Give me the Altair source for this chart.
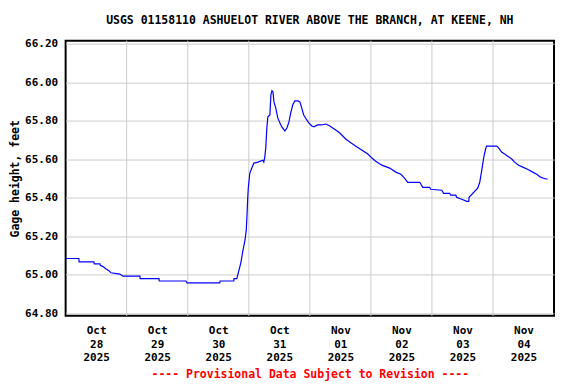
import json
import altair as alt
import pandas as pd

chart_title = "USGS 01158110 ASHUELOT RIVER ABOVE THE BRANCH, AT KEENE, NH"
y_title = "Gage height, feet"
x_note = "---- Provisional Data Subject to Revision ----"

# hours since 2025-10-28 00:00
hours = [0, 5.2, 5.3, 11.1, 11.3, 13.5, 13.6, 14.7, 15.8, 17.0,
         17.8, 21.3, 22.5, 29.2, 29.3, 36.7, 36.8, 47.3, 47.7, 60.6,
         60.7, 66.1, 66.2, 67.3, 68.1, 68.9, 69.7, 70.5, 71.0, 71.3,
         71.6, 71.8, 72.4, 73.2, 74.0, 75.6, 77.5, 77.9, 78.3, 78.7,
         79.1, 79.5, 80.3, 80.7, 81.1, 81.5, 81.9, 82.6, 83.4, 84.2,
         85.0, 86.2, 87.0, 87.8, 88.5, 89.3, 90.1, 91.3, 92.1, 92.8,
         93.6, 94.8, 95.6, 96.8, 97.6, 99.1, 100.7, 102.3, 103.9, 105.0,
         106.2, 107.8, 110.1, 111.7, 114.1, 116.4, 118.8, 120.4, 121.9, 124.3,
         127.4, 129.8, 131.8, 133.3, 134.5, 139.2, 140.4, 143.1, 143.5, 147.9,
         148.6, 151.0, 151.4, 153.4, 153.7, 155.7, 157.7, 158.5, 158.6, 162.0,
         162.8, 163.6, 164.4, 165.1, 165.5, 169.5, 170.3, 171.4, 172.6, 173.8,
         175.4, 176.5, 178.1, 179.7, 181.6, 183.6, 185.2, 186.7, 187.9, 189.5]

gage = [65.084, 65.084, 65.066, 65.066, 65.056, 65.056, 65.049, 65.042, 65.031, 65.021,
        65.010, 65.003, 64.992, 64.992, 64.979, 64.979, 64.967, 64.967, 64.957, 64.957,
        64.967, 64.967, 64.979, 64.979, 65.021, 65.063, 65.125, 65.178, 65.230, 65.308,
        65.402, 65.449, 65.527, 65.554, 65.580, 65.585, 65.595, 65.585, 65.611, 65.663,
        65.762, 65.820, 65.830, 65.935, 65.956, 65.950, 65.898, 65.867, 65.815, 65.789,
        65.768, 65.747, 65.762, 65.794, 65.841, 65.883, 65.903, 65.903, 65.898, 65.867,
        65.830, 65.804, 65.789, 65.773, 65.768, 65.778, 65.778, 65.783, 65.773, 65.762,
        65.752, 65.736, 65.705, 65.689, 65.668, 65.648, 65.627, 65.606, 65.590, 65.569,
        65.554, 65.533, 65.522, 65.501, 65.480, 65.480, 65.454, 65.454, 65.444, 65.439,
        65.423, 65.423, 65.413, 65.413, 65.402, 65.392, 65.381, 65.381, 65.402, 65.449,
        65.480, 65.543, 65.611, 65.653, 65.668, 65.668, 65.658, 65.637, 65.627, 65.616,
        65.601, 65.585, 65.569, 65.559, 65.548, 65.533, 65.522, 65.507, 65.501, 65.496]

label_month = ["Oct", "Oct", "Oct", "Oct", "Nov", "Nov", "Nov", "Nov"]
label_day = ["28", "29", "30", "31", "01", "02", "03", "04"]
label_year = ["2025"] * 8
label_hours = [12, 36, 60, 84, 108, 132, 156, 180]
midnight_hours = [24, 48, 72, 96, 120, 144, 168]
y_ticks = [64.8, 65.0, 65.2, 65.4, 65.6, 65.8, 66.0, 66.2]

df = pd.DataFrame({"h": hours, "v": gage})
grid_df = pd.DataFrame({"h": midnight_hours})

label_lines = [[m, d, y] for m, d, y in zip(label_month, label_day, label_year)]
label_expr = json.dumps(label_lines) + "[floor(datum.value / 24)]"

FONT = "DejaVu Sans Mono"

x_scale = alt.Scale(domain=[0, 192], nice=False, zero=False)
y_scale = alt.Scale(domain=[64.786, 66.216], nice=False, zero=False)

x_axis = alt.Axis(
    values=label_hours, labelExpr=label_expr, grid=False, ticks=False, domain=False,
    labelFont=FONT, labelFontWeight="bold", labelFontSize=11, labelColor="black",
    labelLineHeight=13.5, labelPadding=9, labelAngle=0, labelOverlap=False,
    labelFlush=False, labelBound=False,
    title=x_note, titleColor="red", titleFont=FONT, titleFontWeight="bold",
    titleFontSize=11.5, titlePadding=6)

x_enc = alt.X("h:Q", scale=x_scale, axis=x_axis)

grid = alt.Chart(grid_df).mark_rule(color="#cccccc", strokeWidth=1).encode(x=x_enc)

line = alt.Chart(df).mark_line(color="#0000ff", strokeWidth=1.2).encode(
    x=x_enc,
    y=alt.Y("v:Q", scale=y_scale, axis=alt.Axis(
        values=y_ticks, format=".2f", grid=True, gridColor="#cccccc", gridWidth=1,
        ticks=False, domain=False, labelFont=FONT, labelFontWeight="bold",
        labelFontSize=11, labelColor="black", labelPadding=8, labelOverlap=False,
        labelFlush=False, labelBound=False,
        title=y_title, titleFont=FONT, titleFontWeight="bold", titleFontSize=11.5,
        titleColor="black", titlePadding=4))
)

chart = alt.layer(grid, line).properties(
    width=489,
    height=275.5,
    title=alt.TitleParams(text=chart_title, font=FONT, fontSize=11.5, fontWeight="bold",
                          anchor="middle", offset=11, color="black"),
    padding={"left": 57.7, "top": 32.5, "right": 14, "bottom": 66},
    autosize="none",
).configure_view(stroke="black", strokeWidth=2)

chart.save("out.html", embed_options={"renderer": "svg", "actions": False})
